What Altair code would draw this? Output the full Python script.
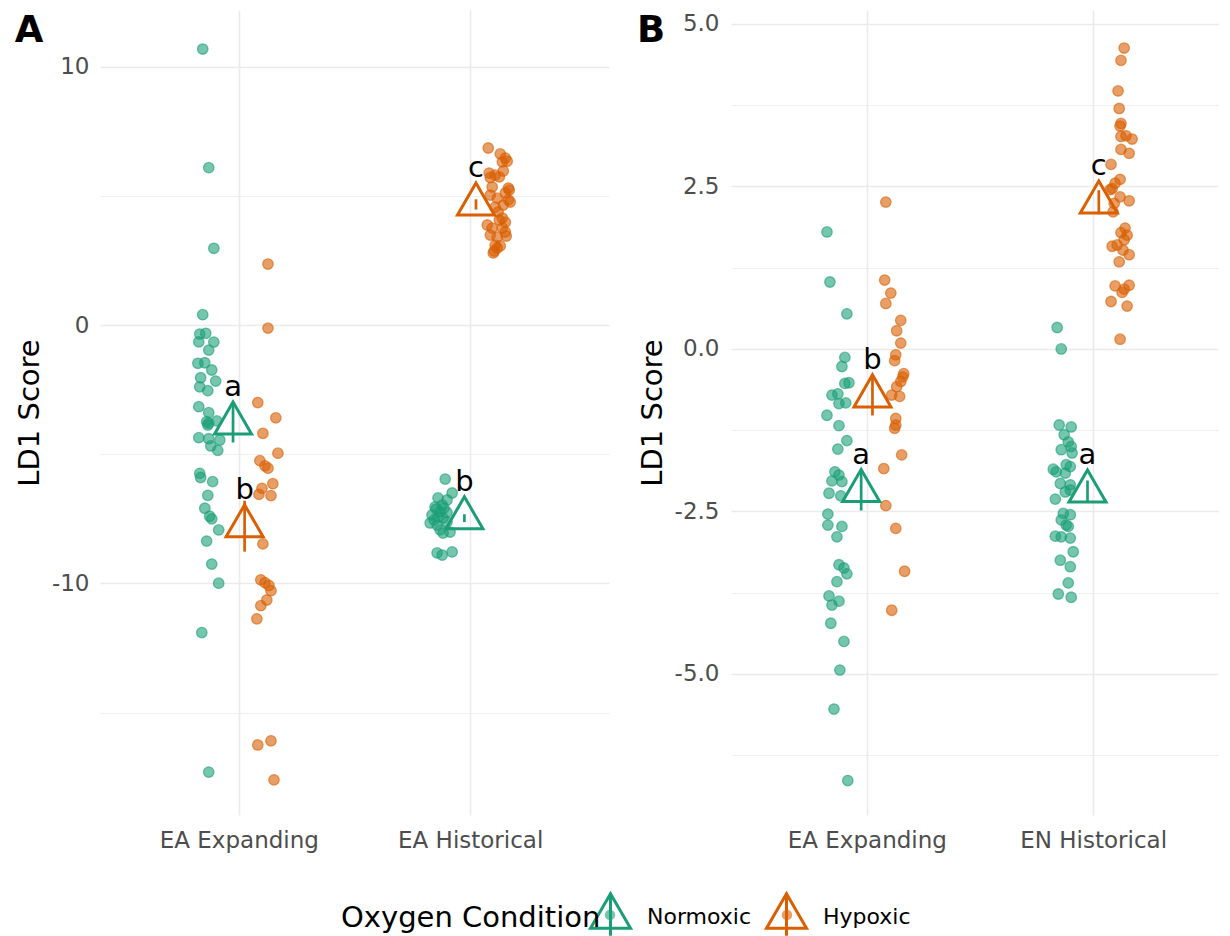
import altair as alt
import pandas as pd

FONT = "DejaVu Sans"
GREEN = "#1B9E77"
ORANGE = "#D95F02"
GRID = "#EBEBEB"

CONDITIONS = ["Normoxic", "Hypoxic"]
A_CATS = ["EA Expanding", "EA Historical"]
B_CATS = ["EA Expanding", "EN Historical"]
A_LETTERS = [["a", "b"], ["b", "c"]]
B_LETTERS = [["a", "b"], ["a", "c"]]

# ---- Panel A: LD1 scores and horizontal jitter (category units) ----
A_EXP_NOR_Y = [10.68, 6.09, 2.97, 0.40, -0.35, -0.32, -0.65, -0.66, -0.97, -1.48, -1.46, -1.74, -2.04, -2.17,
               -2.39, -2.54, -3.16, -3.39, -3.74, -3.80, -3.71, -3.87, -4.36, -4.40, -4.45, -4.68, -4.85, -5.74,
               -5.90, -6.06, -6.59, -7.09, -7.40, -7.50, -7.93, -8.36, -9.25, -9.99, -11.90, -17.30]
A_EXP_NOR_DX = [-0.156, -0.130, -0.108, -0.156, -0.169, -0.143, -0.173, -0.108, -0.130, -0.177, -0.147, -0.117,
                -0.165, -0.100, -0.169, -0.134, -0.173, -0.130, -0.139, -0.130, -0.095, -0.134, -0.173, -0.130,
                -0.082, -0.121, -0.091, -0.169, -0.165, -0.113, -0.134, -0.147, -0.126, -0.117, -0.087, -0.139,
                -0.117, -0.087, -0.160, -0.130]
A_EXP_HYP_Y = [2.36, -0.12, -3.00, -3.59, -4.19, -4.96, -5.25, -5.45, -5.54, -6.14, -6.32, -6.55, -6.60, -8.47,
               -9.86, -9.97, -10.08, -10.28, -10.64, -10.86, -11.37, -16.25, -16.09, -17.60]
A_EXP_HYP_DX = [0.126, 0.126, 0.082, 0.160, 0.104, 0.169, 0.091, 0.113, 0.126, 0.147, 0.100, 0.087, 0.139, 0.104,
                0.095, 0.113, 0.130, 0.139, 0.121, 0.095, 0.078, 0.082, 0.139, 0.152]
A_HIS_NOR_Y = [-5.96, -6.50, -6.69, -6.77, -7.04, -6.96, -7.23, -7.25, -7.35, -7.43, -7.47, -7.66, -7.74, -7.62,
               -7.93, -8.01, -8.05, -8.82, -8.90, -8.78, -7.12, -7.08, -7.54]
A_HIS_NOR_DX = [-0.108, -0.078, -0.139, -0.100, -0.152, -0.121, -0.130, -0.100, -0.165, -0.139, -0.117, -0.173,
                -0.143, -0.100, -0.130, -0.087, -0.117, -0.143, -0.121, -0.078, -0.147, -0.113, -0.156]
A_HIS_HYP_Y = [6.85, 6.62, 6.46, 6.31, 6.34, 5.96, 5.88, 5.80, 5.73, 5.71, 5.34, 5.30, 5.11, 5.22, 5.03, 4.91,
               4.84, 4.76, 4.64, 4.56, 4.37, 4.14, 3.98, 4.06, 3.87, 3.75, 3.76, 3.60, 3.48, 3.40, 3.44, 3.09,
               2.98, 2.79, 3.06, 2.86]
A_HIS_HYP_DX = [0.078, 0.130, 0.152, 0.139, 0.160, 0.143, 0.082, 0.108, 0.126, 0.087, 0.095, 0.165, 0.152, 0.169,
                0.087, 0.117, 0.165, 0.173, 0.143, 0.108, 0.121, 0.139, 0.152, 0.126, 0.074, 0.095, 0.139, 0.152,
                0.087, 0.117, 0.156, 0.108, 0.117, 0.100, 0.130, 0.104]

# ---- Panel B ----
B_EXP_NOR_Y = [1.80, 1.03, 0.54, -0.13, -0.27, -0.53, -0.52, -0.71, -0.69, -0.84, -0.83, -1.02, -1.18, -1.41,
               -1.54, -1.89, -1.94, -2.04, -2.03, -2.22, -2.26, -2.54, -2.71, -2.73, -2.89, -3.32, -3.37, -3.46,
               -3.58, -3.80, -3.94, -3.88, -4.22, -4.50, -4.94, -5.54, -6.64]
B_EXP_NOR_DX = [-0.176, -0.163, -0.088, -0.097, -0.110, -0.097, -0.079, -0.154, -0.128, -0.123, -0.093, -0.176,
                -0.123, -0.088, -0.128, -0.141, -0.123, -0.110, -0.154, -0.167, -0.115, -0.172, -0.172, -0.110,
                -0.132, -0.123, -0.101, -0.088, -0.132, -0.167, -0.154, -0.123, -0.159, -0.101, -0.119, -0.145,
                -0.084]
B_EXP_HYP_Y = [2.26, 1.06, 0.86, 0.70, 0.44, 0.28, 0.09, -0.09, -0.18, -0.38, -0.43, -0.50, -0.58, -0.71, -0.73,
               -1.07, -1.17, -1.22, -1.63, -1.84, -2.41, -2.76, -3.42, -4.02]
B_EXP_HYP_DX = [0.084, 0.079, 0.106, 0.084, 0.150, 0.132, 0.150, 0.128, 0.123, 0.163, 0.159, 0.150, 0.132, 0.110,
                0.145, 0.128, 0.128, 0.123, 0.154, 0.075, 0.084, 0.128, 0.167, 0.110]
B_HIS_NOR_Y = [0.33, 0.00, -1.17, -1.20, -1.32, -1.43, -1.55, -1.50, -1.60, -1.81, -1.78, -1.85, -1.89, -1.91,
               -2.07, -2.09, -2.31, -2.20, -2.17, -2.53, -2.55, -2.63, -2.71, -2.73, -2.88, -2.89, -2.91, -3.12,
               -3.25, -3.35, -3.60, -3.77, -3.82]
B_HIS_NOR_DX = [-0.159, -0.141, -0.150, -0.097, -0.128, -0.110, -0.141, -0.097, -0.093, -0.101, -0.119, -0.176,
                -0.163, -0.123, -0.145, -0.101, -0.167, -0.123, -0.101, -0.132, -0.101, -0.141, -0.119, -0.110,
                -0.167, -0.141, -0.101, -0.088, -0.145, -0.101, -0.110, -0.154, -0.097]
B_HIS_HYP_Y = [4.63, 4.44, 3.97, 3.70, 3.47, 3.43, 3.27, 3.28, 3.23, 3.07, 3.01, 2.84, 2.61, 2.55, 2.47, 2.45,
               2.34, 2.28, 2.24, 2.11, 1.86, 1.79, 1.75, 1.68, 1.58, 1.60, 1.52, 1.45, 1.34, 0.97, 0.92, 0.98,
               0.87, 0.73, 0.66, 0.15]
B_HIS_HYP_DX = [0.137, 0.123, 0.110, 0.115, 0.123, 0.119, 0.123, 0.145, 0.172, 0.123, 0.159, 0.079, 0.119, 0.097,
                0.084, 0.075, 0.119, 0.159, 0.093, 0.088, 0.141, 0.123, 0.150, 0.137, 0.084, 0.106, 0.132, 0.159,
                0.115, 0.097, 0.137, 0.159, 0.128, 0.079, 0.150, 0.119]

DODGE = [-0.025, 0.025]


def make_df(cats, series, letters):
    rows = []
    for gi, cat in enumerate(cats):
        for ci, cond in enumerate(CONDITIONS):
            ys, dxs = series[gi][ci]
            for y, dx in zip(ys, dxs):
                rows.append({"group": cat, "condition": cond, "y": y, "x": gi + 1 + dx,
                             "xc": gi + 1 + DODGE[ci], "letter": letters[gi][ci]})
    return pd.DataFrame(rows)


df_a = make_df(A_CATS, [[(A_EXP_NOR_Y, A_EXP_NOR_DX), (A_EXP_HYP_Y, A_EXP_HYP_DX)],
                        [(A_HIS_NOR_Y, A_HIS_NOR_DX), (A_HIS_HYP_Y, A_HIS_HYP_DX)]], A_LETTERS)
df_b = make_df(B_CATS, [[(B_EXP_NOR_Y, B_EXP_NOR_DX), (B_EXP_HYP_Y, B_EXP_HYP_DX)],
                        [(B_HIS_NOR_Y, B_HIS_NOR_DX), (B_HIS_HYP_Y, B_HIS_HYP_DX)]], B_LETTERS)

TRI_PATH = "M0,-1.155L1,0.577L-1,0.577Z"
LEG_TRI = "M0,-1.155L1,0.577L-1,0.577Z M0,-1.2L0,0.95"
LEG_DOT = "M0.26,0A0.26,0.26 0 1,1 -0.26,0A0.26,0.26 0 1,1 0.26,0Z"

LX, LY = 241, 885
LEG_SHARED = dict(orient="none", legendY=LY, direction="horizontal", symbolSize=1600,
                  labelFontSize=22, labelFont=FONT, labelColor="black", labelOffset=15)
# triangle + errorbar legend, carrying the title and labels
stroke_legend = alt.Legend(legendX=LX, title="Oxygen Condition", titleOrient="left", titleFontSize=29,
                           titleFont=FONT, titleFontWeight="normal", titleColor="black", titlePadding=-12,
                           titleLimit=400, titleBaseline="middle", columnPadding=8,
                           symbolType=LEG_TRI, symbolStrokeWidth=3, symbolFillColor="transparent",
                           **LEG_SHARED)
# translucent dot drawn inside each legend triangle
fill_legend = alt.Legend(legendX=LX + 249, title=None, labelExpr="''", columnPadding=122,
                         symbolType=LEG_DOT, symbolOpacity=0.6, symbolStrokeWidth=0, **LEG_SHARED)

# fill scale: explicit domain; stroke scale: data domain sorted the same way (kept as separate legends)
fill_scale = alt.Scale(domain=CONDITIONS, range=[GREEN, ORANGE])
stroke_scale = alt.Scale(range=[GREEN, ORANGE])


def stroke_enc():
    return alt.Stroke("condition:N", sort=CONDITIONS, scale=stroke_scale, legend=stroke_legend)


def panel(df, cats, xdom, ydom, yvals, major_test, fmt, tag, tag_dx, width, ypad):
    xaxis = alt.Axis(values=[1, 2],
                     labelExpr=f"datum.value == 1 ? '{cats[0]}' : (datum.value == 2 ? '{cats[1]}' : '')",
                     title=None, domain=False, ticks=False, grid=True, gridColor=GRID, gridWidth=1.6,
                     labelFont=FONT, labelFontSize=23, labelColor="#4D4D4D", labelPadding=14)
    yaxis = alt.Axis(values=yvals,
                     labelExpr=f"({major_test}) ? ((datum.value < 0 ? '-' : '') + format(abs(datum.value), '{fmt}')) : ''",
                     title="LD1 Score", titleFont=FONT, titleFontSize=29, titleFontWeight="normal",
                     titleColor="black", titlePadding=7,
                     domain=False, ticks=False, grid=True, gridColor=GRID,
                     gridWidth={"condition": {"test": major_test, "value": 1.6}, "value": 0.8},
                     labelFont=FONT, labelFontSize=23, labelColor="#4D4D4D", labelPadding=ypad)
    xs = alt.Scale(domain=xdom, nice=False, zero=False)
    ys = alt.Scale(domain=ydom, nice=False, zero=False)

    base = alt.Chart(df)
    pts = base.mark_circle(size=110, fillOpacity=0.6, strokeOpacity=0.6, strokeWidth=1.3, opacity=1).encode(
        x=alt.X("x:Q", scale=xs, axis=xaxis),
        y=alt.Y("y:Q", scale=ys, axis=yaxis),
        color=alt.Color("condition:N", scale=fill_scale, legend=fill_legend),
        stroke=stroke_enc(),
    )
    agg = base.transform_aggregate(
        mean="mean(y)", se="stderr(y)", groupby=["xc", "condition", "letter"]
    ).transform_calculate(lo="datum.mean - datum.se", hi="datum.mean + datum.se")
    bars = agg.mark_rule(strokeWidth=2.7).encode(
        x=alt.X("xc:Q", scale=xs, axis=xaxis),
        y=alt.Y("lo:Q", scale=ys, axis=yaxis), y2="hi:Q",
        stroke=stroke_enc(),
    )
    tri = agg.mark_point(shape=TRI_PATH, size=1369, filled=False, strokeWidth=3, opacity=1).encode(
        x=alt.X("xc:Q", scale=xs, axis=xaxis),
        y=alt.Y("mean:Q", scale=ys, axis=yaxis),
        stroke=stroke_enc(),
    )
    txt = agg.mark_text(font=FONT, fontSize=29, color="black", align="center", baseline="alphabetic",
                        dy=-27).encode(
        x=alt.X("xc:Q", scale=xs, axis=xaxis),
        y=alt.Y("mean:Q", scale=ys, axis=yaxis),
        text="letter:N",
    )
    tag_layer = alt.Chart(pd.DataFrame({"t": [tag]})).mark_text(
        font=FONT, fontSize=37, fontWeight="bold", color="black", align="center", baseline="alphabetic"
    ).encode(x=alt.value(tag_dx), y=alt.value(32), text="t:N")
    return alt.layer(pts, bars, tri, txt, tag_layer).properties(width=width, height=805)


pa = panel(df_a, A_CATS, [0.4, 2.6], [-18.96, 12.19], [-15, -10, -5, 0, 5, 10],
           "datum.value % 10 == 0", "d", "A", -71, 509, 11)
pb = panel(df_b, B_CATS, [0.4, 2.556], [-7.17, 5.215],
           [-6.25, -5, -3.75, -2.5, -1.25, 0, 1.25, 2.5, 3.75, 5],
           "abs(datum.value / 2.5 - round(datum.value / 2.5)) < 0.01", ".1f", "B", -80, 488, 12)

chart = (
    alt.hconcat(pa, pb, spacing=27)
    .resolve_scale(x="independent", y="independent", color="shared", stroke="shared")
    .resolve_legend(color="shared", stroke="shared")
    .properties(padding={"left": 6, "top": 2, "right": 0, "bottom": 0})
    .configure(font=FONT)
    .configure_view(stroke=None)
)

chart.save("out.html", embed_options={"renderer": "svg", "actions": False})
